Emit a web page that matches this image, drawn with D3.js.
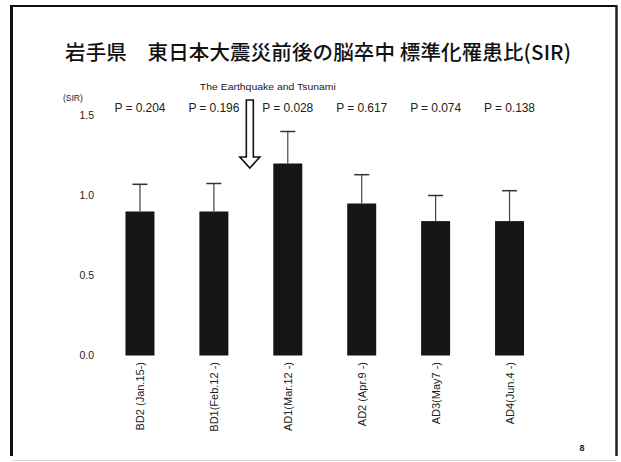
<!DOCTYPE html>
<html>
<head>
<meta charset="utf-8">
<script src="https://cdn.jsdelivr.net/npm/d3@7"></script>
<style>
  html, body { margin: 0; padding: 0; background: #fff; }
  svg { display: block; }
</style>
</head>
<body>
<svg id="chart" width="621" height="462"></svg>
<script>
// Periods before (BD) and after (AD) the 2011 earthquake
const categories = ["BD2 (Jan.15-)", "BD1(Feb.12 -)", "AD1(Mar.12 -)", "AD2 (Apr.9 -)", "AD3(May7 -)", "AD4(Jun.4 -)"];
// Standardized incidence ratio per period
const sirValues = [0.90, 0.90, 1.20, 0.95, 0.84, 0.84];
// Upper end of the error bar per period
const sirUpper = [1.07, 1.075, 1.40, 1.13, 1.00, 1.03];
// P value per period
const pValues = ["0.204", "0.196", "0.028", "0.617", "0.074", "0.138"];
// Y axis tick labels
const yTicks = [0, 0.5, 1.0, 1.5];

const svg = d3.select("#chart");
const latin = "'Liberation Sans', Arial, sans-serif";
const cjk = "'Noto Sans CJK JP', 'Noto Sans', sans-serif";

// Slide frame
svg.append("line").attr("x1", 10).attr("x2", 617).attr("y1", 6).attr("y2", 6)
  .attr("stroke", "#111").attr("stroke-width", 2);
svg.append("line").attr("x1", 11.5).attr("x2", 11.5).attr("y1", 5).attr("y2", 456)
  .attr("stroke", "#111").attr("stroke-width", 3);
svg.append("line").attr("x1", 616.5).attr("x2", 616.5).attr("y1", 5).attr("y2", 456)
  .attr("stroke", "#222").attr("stroke-width", 2.5);
svg.append("line").attr("x1", 12).attr("x2", 617).attr("y1", 460.5).attr("y2", 460.5)
  .attr("stroke", "#d8d8d8").attr("stroke-width", 1);

// Title
svg.append("text")
  .attr("x", 65).attr("y", 60)
  .attr("font-family", cjk).attr("font-size", 20.5).attr("font-weight", 500)
  .attr("fill", "#111")
  .attr("textLength", 506).attr("lengthAdjust", "spacing")
  .text("岩手県　東日本大震災前後の脳卒中 標準化罹患比(SIR)");

// Scales
const x = d3.scaleBand().domain(categories).range([103, 546.5])
  .paddingInner(0.608).paddingOuter(0.304);
const y = d3.scaleLinear().domain([0, 1.5]).range([355.5, 115.5]);

// Y axis: labels only
const yAxis = d3.axisLeft(y).tickValues(yTicks).tickFormat(d3.format(".1f"))
  .tickSize(0).tickPadding(0);
const ya = svg.append("g").attr("transform", "translate(94,0)").call(yAxis);
ya.select(".domain").remove();
ya.selectAll("text").attr("font-family", latin).attr("font-size", 10.5).attr("fill", "#222");

svg.append("text").attr("x", 63).attr("y", 101)
  .attr("font-family", latin).attr("font-size", 8.5).attr("fill", "#222")
  .text("(SIR)");

const rows = categories.map((c, i) => ({ c, v: sirValues[i], u: sirUpper[i], p: pValues[i] }));

// Error bars
const eb = svg.append("g");
eb.selectAll("line.stem").data(rows).join("line").attr("class", "stem")
  .attr("x1", d => x(d.c) + x.bandwidth() / 2).attr("x2", d => x(d.c) + x.bandwidth() / 2)
  .attr("y1", d => y(d.v)).attr("y2", d => y(d.u))
  .attr("stroke", "#444").attr("stroke-width", 1.2);
eb.selectAll("line.cap").data(rows).join("line").attr("class", "cap")
  .attr("x1", d => x(d.c) + x.bandwidth() / 2 - 7.5).attr("x2", d => x(d.c) + x.bandwidth() / 2 + 7.5)
  .attr("y1", d => y(d.u)).attr("y2", d => y(d.u))
  .attr("stroke", "#333").attr("stroke-width", 1.5);

// Bars
svg.append("g").selectAll("rect").data(rows).join("rect")
  .attr("x", d => x(d.c)).attr("width", x.bandwidth())
  .attr("y", d => y(d.v)).attr("height", d => y(0) - y(d.v))
  .attr("fill", "#151515");

// P values above each bar
svg.append("g").selectAll("text").data(rows).join("text")
  .attr("x", d => x(d.c) + x.bandwidth() / 2).attr("y", 112)
  .attr("text-anchor", "middle")
  .attr("font-family", latin).attr("font-size", 12).attr("fill", "#222")
  .attr("textLength", 51).attr("lengthAdjust", "spacing")
  .text(d => "P = " + d.p);

// Category labels, rotated
svg.append("g").selectAll("text").data(rows).join("text")
  .attr("transform", d => `translate(${x(d.c) + x.bandwidth() / 2 + 4},362) rotate(-90)`)
  .attr("text-anchor", "end")
  .attr("font-family", latin).attr("font-size", 11).attr("fill", "#222")
  .text(d => d.c);

// Earthquake marker between BD1 and AD1
const ax = x(categories[2]) - x.step() * x.paddingInner() / 2 - 1;
const arrowTop = 100, headBase = 157, arrowTip = 168, sw = 3.5, hw = 10;
svg.append("path")
  .attr("d", `M${ax - sw},${arrowTop} L${ax + sw},${arrowTop} L${ax + sw},${headBase} L${ax + hw},${headBase} L${ax},${arrowTip} L${ax - hw},${headBase} L${ax - sw},${headBase} Z`)
  .attr("fill", "#fff").attr("stroke", "#111").attr("stroke-width", 1.6)
  .attr("stroke-linejoin", "miter");
svg.append("text").attr("x", ax + 18).attr("y", 90)
  .attr("text-anchor", "middle")
  .attr("font-family", latin).attr("font-size", 9).attr("fill", "#222")
  .attr("textLength", 136).attr("lengthAdjust", "spacingAndGlyphs")
  .text("The Earthquake and Tsunami");

// Page number
svg.append("text").attr("x", 582).attr("y", 451)
  .attr("text-anchor", "middle")
  .attr("font-family", latin).attr("font-size", 9).attr("font-weight", "bold").attr("fill", "#222")
  .text("8");
</script>
</body>
</html>
